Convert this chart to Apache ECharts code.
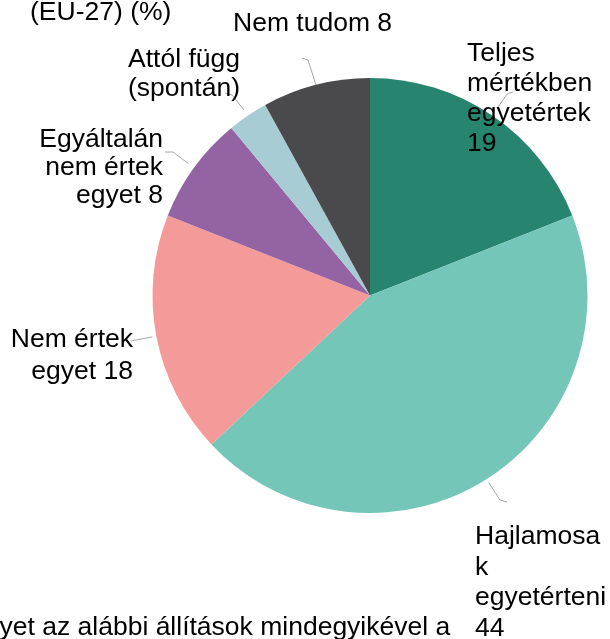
<!DOCTYPE html>
<html>
<head>
<meta charset="utf-8">
<script src="https://cdn.jsdelivr.net/npm/echarts@6/dist/echarts.min.js"></script>
<style>
  html, body { margin: 0; padding: 0; background: #ffffff; }
  #chart { width: 610px; height: 639px; }
</style>
</head>
<body>
<div id="chart"></div>
<script>
// Survey answers (EU-27, %)
const categories = [
  'Teljes mértékben egyetértek',
  'Hajlamosak egyetérteni',
  'Nem értek egyet',
  'Egyáltalán nem értek egyet',
  'Attól függ (spontán)',
  'Nem tudom'
];
const values = [19, 44, 18, 8, 3, 8];
const colors = ['#27846f', '#74c6b8', '#f49a98', '#9463a4', '#a8ccd4', '#4a494c'];

// Wrapped label text; the value is appended where shown
const wrappedNames = [
  'Teljes\nmértékben\negyetértek\n',
  'Hajlamosa\nk\negyetérteni\n',
  'Nem értek\negyet ',
  'Egyáltalán\nnem értek\negyet ',
  'Attól függ\n(spontán)',
  'Nem tudom '
];
const showValue = [true, true, true, true, false, true];

const FONT = '"Liberation Sans", Arial, sans-serif';
const FONT_SIZE = 26.5;

// Label anchor, alignment, line height and leader-line bend points
const labelPlacement = [
  { x: 467, y: 99,    align: 'left',  lh: 30, gap: 10, line: [[507, 94], [513, 92]] },
  { x: 475, y: 582.5, align: 'left',  lh: 30.5, gap: 4, line: [[500, 500], [507, 502]] },
  { x: 133, y: 355.5, align: 'right', lh: 32, gap: 4, line: [[141, 339], [131, 341]] },
  { x: 163, y: 167.5, align: 'right', lh: 28, gap: 7, line: [[173, 152], [165, 152]] },
  { x: 128, y: 74,    align: 'left',  lh: 29, gap: 7, line: [[232, 95], [225, 93]] },
  { x: 233, y: 23.5,  align: 'left',  lh: 30, gap: 0, line: [[308, 60], [302, 58]] }
];

const CENTER = [370, 295.5];
const RADIUS = 217.5;

const chart = echarts.init(document.getElementById('chart'), null, { renderer: 'canvas' });

const data = categories.map((name, i) => ({
  name: name,
  value: values[i],
  itemStyle: { color: colors[i] },
  label: { align: labelPlacement[i].align, lineHeight: labelPlacement[i].lh }
}));

chart.setOption({
  animation: false,
  backgroundColor: '#ffffff',
  graphic: [
    {
      type: 'text',
      style: {
        text: '(EU-27) (%)',
        x: 30, y: 13,
        fill: '#000000',
        font: FONT_SIZE + 'px ' + FONT,
        verticalAlign: 'middle'
      },
      silent: true
    },
    {
      type: 'text',
      style: {
        text: 'egyet az alábbi állítások mindegyikével a',
        x: -30, y: 628,
        fill: '#000000',
        font: FONT_SIZE + 'px ' + FONT,
        verticalAlign: 'middle',
        align: 'left'
      },
      silent: true
    }
  ],
  series: [{
    type: 'pie',
    center: CENTER,
    radius: RADIUS,
    startAngle: 90,
    clockwise: true,
    avoidLabelOverlap: false,
    itemStyle: { borderWidth: 0 },
    emphasis: { disabled: true },
    label: {
      show: true,
      position: 'outside',
      color: '#000000',
      fontFamily: FONT,
      fontSize: FONT_SIZE,
      formatter: p => wrappedNames[p.dataIndex] + (showValue[p.dataIndex] ? p.value : '')
    },
    labelLine: {
      show: true,
      length: 10,
      length2: 10,
      lineStyle: { color: '#a6a6a6', width: 1 }
    },
    labelLayout: function (params) {
      const cfg = labelPlacement[params.dataIndex];
      const pts = params.labelLinePoints;
      let start = pts ? pts[0] : [cfg.line[0][0], cfg.line[0][1]];
      // push the line start slightly off the slice edge, along the radius
      const dx = start[0] - CENTER[0], dy = start[1] - CENTER[1];
      const d = Math.sqrt(dx * dx + dy * dy) || 1;
      start = [start[0] + dx / d * cfg.gap, start[1] + dy / d * cfg.gap];
      return {
        x: cfg.x,
        y: cfg.y,
        align: cfg.align,
        verticalAlign: 'middle',
        labelLinePoints: [start, cfg.line[0], cfg.line[1]]
      };
    },
    data: data
  }]
});
</script>
</body>
</html>
